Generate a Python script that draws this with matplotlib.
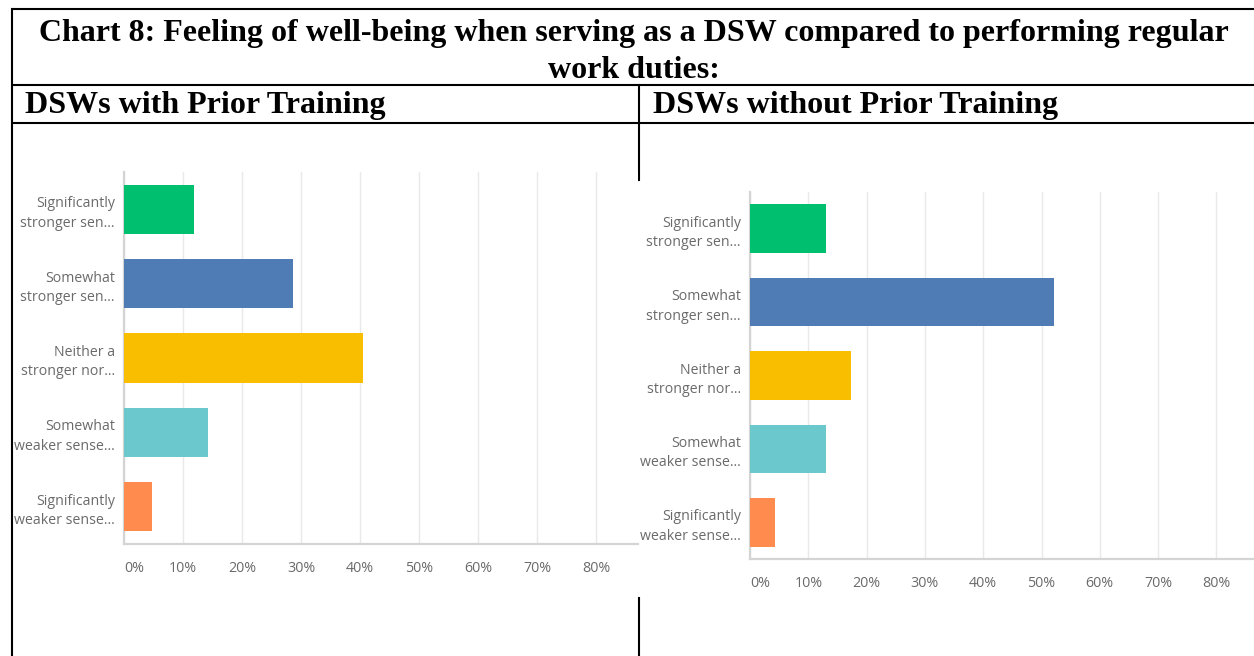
import matplotlib.pyplot as plt

W, H = 1254, 656

categories = [
    "Significantly\nstronger sen...",
    "Somewhat\nstronger sen...",
    "Neither a\nstronger nor...",
    "Somewhat\nweaker sense...",
    "Significantly\nweaker sense...",
]
bar_colors = ["#00BF6F", "#507CB6", "#F9BE00", "#6BC8CD", "#FF8B4F"]
ticks = [0, 10, 20, 30, 40, 50, 60, 70, 80]
tick_labels = [f"{t}%" for t in ticks]

# percent of respondents per answer
with_training = [11.90, 28.57, 40.48, 14.29, 4.76]
without_training = [13.04, 52.17, 17.39, 13.04, 4.35]

title = "Chart 8: Feeling of well-being when serving as a DSW compared to performing regular\nwork duties:"
left_header = "DSWs with Prior Training"
right_header = "DSWs without Prior Training"

fig = plt.figure(figsize=(W / 100, H / 100), dpi=100)


def px_rect(left, top, right, bottom):
    # pixel box -> figure fraction rect
    return [left / W, 1 - bottom / H, (right - left) / W, (bottom - top) / H]


# table frame drawn in pixel units
bg = fig.add_axes([0, 0, 1, 1])
bg.set_xlim(0, W)
bg.set_ylim(H, 0)
bg.axis("off")

lw = 1.5
for yy in [9, 85, 123]:
    bg.plot([12, W], [yy, yy], color="black", lw=lw, solid_capstyle="butt")
bg.plot([12, 12], [9, H], color="black", lw=lw)
bg.plot([639, 639], [85, 180], color="black", lw=lw)
bg.plot([639, 639], [598, H], color="black", lw=lw)

serif = ["Liberation Serif", "DejaVu Serif"]
bg.text(634, 52, title, ha="center", va="center", fontsize=23, fontweight="bold",
        family=serif, linespacing=1.36)
bg.text(25, 106, left_header, ha="left", va="center", fontsize=23, fontweight="bold", family=serif)
bg.text(653, 106, right_header, ha="left", va="center", fontsize=23, fontweight="bold", family=serif)


def bar_panel(rect, values, xmax):
    ax = fig.add_axes(rect)
    pos = list(range(len(values)))
    ax.barh(pos, values, height=0.66, color=bar_colors, zorder=3)
    ax.set_ylim(len(values) - 0.5, -0.5)
    ax.set_xlim(0, xmax)
    ax.set_xticks(ticks)
    ax.set_xticklabels(tick_labels)
    ax.get_xticklabels()[0].set_horizontalalignment("left")
    ax.set_yticks(pos)
    ax.set_yticklabels(categories, linespacing=1.4)
    ax.grid(axis="x", color="#e9e9e9", lw=1, zorder=0)
    ax.set_axisbelow(True)
    for s in ["top", "right"]:
        ax.spines[s].set_visible(False)
    for s in ["left", "bottom"]:
        ax.spines[s].set_color("#d4d4d4")
        ax.spines[s].set_linewidth(1.6)
    ax.tick_params(axis="x", length=0, pad=12, labelsize=10.3, labelcolor="#6a6a6a")
    ax.tick_params(axis="y", length=0, pad=6.5, labelsize=10.2, labelcolor="#6a6a6a")
    for lab in ax.get_xticklabels() + ax.get_yticklabels():
        lab.set_family(["Open Sans", "DejaVu Sans"])
    return ax


bar_panel(px_rect(124, 172, 638, 544), with_training, (638 - 124) / 5.9)
bar_panel(px_rect(750, 192, W, 559), without_training, (W - 750) / 5.83)

fig.savefig("out.png", dpi=100)
